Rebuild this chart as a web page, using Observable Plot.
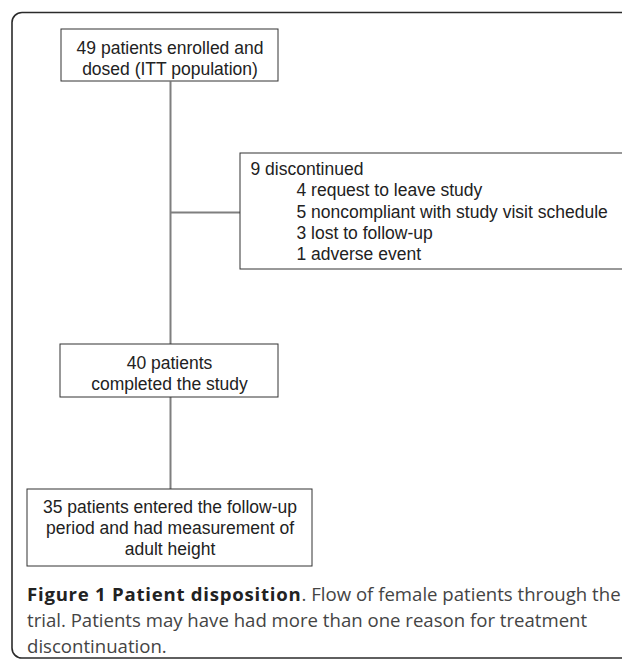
<!DOCTYPE html>
<html>
<head>
<meta charset="utf-8">
<script src="https://cdn.jsdelivr.net/npm/d3@7"></script>
<script src="https://cdn.jsdelivr.net/npm/@observablehq/plot@0.6"></script>
<style>
  html, body { margin: 0; padding: 0; background: #fff; overflow: hidden; }
  #wrap { position: relative; width: 622px; height: 660px; }
  #caption {
    position: absolute; left: 27px; top: 581px; width: 620px;
    font-family: "Open Sans", sans-serif; font-size: 18.6px; line-height: 26px;
    color: #444; white-space: nowrap;
  }
  #caption b { color: #222; font-weight: 700; letter-spacing: 0.75px; }
</style>
</head>
<body>
<div id="wrap">
  <div id="chart"></div>
  <div id="caption"></div>
</div>
<script>
// --- data ---
const boxLabels = [
  "49 patients enrolled and\ndosed (ITT population)",
  "40 patients\ncompleted the study",
  "35 patients entered the follow-up\nperiod and had measurement of\nadult height"
];
const discontinuedTitle = "9 discontinued";
const discontinuedReasons = [
  "4 request to leave study",
  "5 noncompliant with study visit schedule",
  "3 lost to follow-up",
  "1 adverse event"
];
const captionBold = "Figure 1 Patient disposition";
const captionLines = [
  ". Flow of female patients through the",
  "trial. Patients may have had more than one reason for treatment",
  "discontinuation."
];

// --- layout (diagram geometry) ---
const boxLayout = [
  {x1: 61, x2: 278, y1: 29, y2: 81, cy: 57},
  {x1: 60, x2: 278, y1: 344, y2: 397, cy: 372},
  {x1: 27, x2: 312, y1: 489, y2: 566, cy: 527}
];
const discLayout = {x1: 240, x2: 660, y1: 153, y2: 269, tx: 250, ix: 296, ty: 169, dy: 21.3};
const spineX = 170;
const frame = {x1: 12, x2: 700, y1: 12.5, y2: 658};

const boxes = boxLabels.map((label, i) => ({label, ...boxLayout[i]}));
const discLines = [discontinuedTitle, ...discontinuedReasons].map((t, i) => ({
  text: t, x: i === 0 ? discLayout.tx : discLayout.ix, y: discLayout.ty + i * discLayout.dy
}));
const connectors = [
  {x1: spineX, y1: boxLayout[0].y2, x2: spineX, y2: boxLayout[2].y1},
  {x1: spineX, y1: 212, x2: discLayout.x1, y2: 212}
];

const chart = Plot.plot({
  width: 622, height: 660,
  margin: 0,
  x: {domain: [0, 622], range: [0, 622], axis: null},
  y: {domain: [0, 660], range: [0, 660], axis: null},
  style: {background: "transparent"},
  marks: [
    Plot.rect([frame], {x1: "x1", x2: "x2", y1: "y1", y2: "y2", fill: "none", stroke: "#2b2b2b", strokeWidth: 1.6, rx: 10}),
    Plot.link(connectors, {x1: "x1", y1: "y1", x2: "x2", y2: "y2", stroke: "#7f7f7f", strokeWidth: 2}),
    Plot.rect(boxes, {x1: "x1", x2: "x2", y1: "y1", y2: "y2", fill: "white", stroke: "#333", strokeWidth: 1}),
    Plot.rect([discLayout], {x1: "x1", x2: "x2", y1: "y1", y2: "y2", fill: "white", stroke: "#333", strokeWidth: 1}),
    Plot.text(boxes, {
      x: d => (d.x1 + d.x2) / 2, y: "cy", text: "label",
      fontFamily: "Liberation Sans, Arial, sans-serif", fontSize: 17.5, lineHeight: 1.2,
      fill: "#222", textAnchor: "middle"
    }),
    Plot.text(discLines, {
      x: "x", y: "y", text: "text", textAnchor: "start",
      fontFamily: "Liberation Sans, Arial, sans-serif", fontSize: 17.5, fill: "#222"
    })
  ]
});
document.getElementById("chart").appendChild(chart);

const cap = document.getElementById("caption");
const b = document.createElement("b");
b.textContent = captionBold;
cap.appendChild(b);
captionLines.forEach((line, i) => {
  if (i > 0) cap.appendChild(document.createElement("br"));
  cap.appendChild(document.createTextNode(line));
});
</script>
</body>
</html>
